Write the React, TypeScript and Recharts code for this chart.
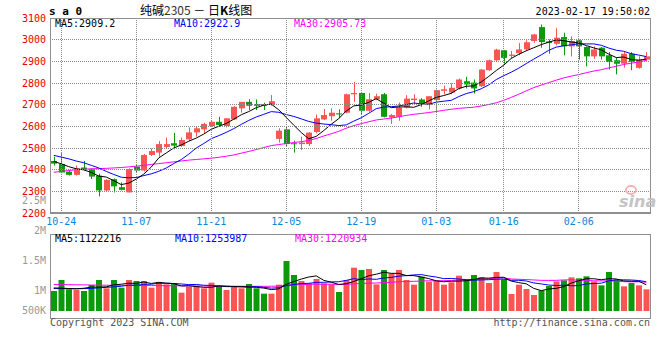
import React from 'react';
import { ComposedChart, Bar, Line, XAxis, YAxis, Cell } from 'recharts';

const dates = [
  '10-21', '10-24', '10-25', '10-26', '10-27', '10-28', '10-31', '11-01', '11-02', '11-03',
  '11-04', '11-07', '11-08', '11-09', '11-10', '11-11', '11-14', '11-15', '11-16', '11-17',
  '11-18', '11-21', '11-22', '11-23', '11-24', '11-25', '11-28', '11-29', '11-30', '12-01',
  '12-02', '12-05', '12-06', '12-07', '12-08', '12-09', '12-12', '12-13', '12-14', '12-15',
  '12-16', '12-19', '12-20', '12-21', '12-22', '12-23', '12-26', '12-27', '12-28', '12-29',
  '12-30', '01-03', '01-04', '01-05', '01-06', '01-09', '01-10', '01-11', '01-12', '01-13',
  '01-16', '01-17', '01-18', '01-19', '01-20', '01-30', '01-31', '02-01', '02-02', '02-03',
  '02-06', '02-07', '02-08', '02-09', '02-10', '02-13', '02-14', '02-15', '02-16', '02-17',
];

const opens = [
  2440, 2426, 2391, 2376, 2410, 2402, 2372, 2304, 2356, 2319,
  2295, 2414, 2396, 2468, 2479, 2505, 2522, 2509, 2540, 2572,
  2586, 2601, 2621, 2601, 2632, 2683, 2713, 2703, 2702, 2698,
  2542, 2586, 2522, 2518, 2518, 2574, 2632, 2647, 2660, 2663,
  2748, 2754, 2672, 2725, 2748, 2641, 2644, 2687, 2721, 2724,
  2698, 2721, 2764, 2756, 2775, 2808, 2802, 2785, 2859, 2905,
  2951, 2925, 2937, 2955, 2994, 3058, 2992, 2981, 3012, 2969,
  2997, 2966, 2923, 2963, 2928, 2905, 2889, 2935, 2870, 2908,
];
const highs = [
  2460, 2476, 2399, 2419, 2440, 2406, 2381, 2356, 2359, 2341,
  2406, 2426, 2473, 2498, 2532, 2548, 2570, 2548, 2595, 2601,
  2617, 2626, 2644, 2637, 2693, 2713, 2725, 2724, 2709, 2744,
  2591, 2598, 2534, 2552, 2574, 2655, 2680, 2683, 2678, 2751,
  2805, 2754, 2754, 2751, 2754, 2657, 2710, 2744, 2748, 2730,
  2739, 2770, 2788, 2798, 2821, 2828, 2816, 2865, 2908, 2958,
  2951, 2948, 2985, 2997, 3027, 3070, 3001, 3053, 3032, 3015,
  3000, 2969, 2969, 2966, 2943, 2917, 2943, 2943, 2923, 2943,
];
const lows = [
  2419, 2384, 2373, 2373, 2396, 2357, 2277, 2301, 2295, 2304,
  2295, 2387, 2391, 2463, 2460, 2498, 2494, 2505, 2532, 2552,
  2568, 2598, 2598, 2595, 2629, 2663, 2675, 2675, 2675, 2695,
  2525, 2509, 2479, 2491, 2509, 2568, 2629, 2626, 2637, 2660,
  2713, 2652, 2667, 2721, 2641, 2611, 2626, 2683, 2703, 2690,
  2678, 2667, 2748, 2748, 2770, 2775, 2751, 2782, 2856, 2902,
  2889, 2912, 2928, 2948, 2985, 2963, 2935, 2974, 2928, 2923,
  2908, 2877, 2912, 2908, 2862, 2840, 2871, 2859, 2866, 2897,
];
const closes = [
  2428, 2387, 2376, 2406, 2399, 2368, 2304, 2353, 2323, 2307,
  2403, 2396, 2468, 2486, 2518, 2518, 2511, 2537, 2572, 2591,
  2611, 2621, 2606, 2637, 2690, 2713, 2695, 2695, 2695, 2716,
  2580, 2518, 2518, 2525, 2571, 2637, 2652, 2663, 2655, 2748,
  2754, 2672, 2725, 2739, 2644, 2652, 2687, 2728, 2728, 2706,
  2739, 2767, 2771, 2778, 2816, 2793, 2775, 2862, 2905, 2954,
  2916, 2931, 2955, 2988, 3024, 2989, 2985, 3009, 2969, 2994,
  2969, 2923, 2955, 2923, 2897, 2889, 2935, 2897, 2908, 2923,
];
const volumes = [
  854000, 1323000, 925000, 896000, 854000, 1110000, 1323000, 968000, 1323000, 996000,
  1323000, 1281000, 1281000, 996000, 1238000, 1138000, 1195000, 783000, 1039000, 1067000,
  968000, 1210000, 1067000, 896000, 1067000, 968000, 1153000, 968000, 740000, 740000,
  1124000, 2134000, 1537000, 1281000, 1181000, 1366000, 1181000, 1138000, 811000, 1323000,
  1850000, 1750000, 1793000, 1138000, 1750000, 1608000, 1750000, 1323000, 1124000, 1466000,
  1252000, 1281000, 1124000, 1224000, 1508000, 1323000, 1537000, 1451000, 1195000, 1665000,
  1352000, 726000, 1124000, 939000, 683000, 882000, 1067000, 1266000, 1309000, 1437000,
  1395000, 1480000, 1266000, 1096000, 1665000, 1338000, 1053000, 1195000, 1096000, 925000,
];

// moving-average values before a full window of visible data exists
const ma5Head = [2438, 2427, 2414, 2404];
const ma10Head = [2466, 2458, 2450, 2440, 2432, 2420, 2408, 2392, 2378];
const ma30Head = [
  2388, 2392, 2396, 2400, 2402, 2404, 2405, 2406, 2408, 2410,
  2413, 2416, 2420, 2424, 2428, 2432, 2436, 2440, 2444, 2447,
  2450, 2453, 2457, 2462, 2468, 2476, 2484, 2493, 2502,
];
const vma5Head = [985000, 975000, 960000, 950000];
const vma10Head = [960000, 955000, 950000, 950000, 955000, 965000, 990000, 1010000, 1030000];
const vma30Head = [
  1130000, 1128000, 1125000, 1120000, 1115000, 1110000, 1105000, 1100000, 1098000, 1095000,
  1093000, 1090000, 1088000, 1085000, 1083000, 1080000, 1078000, 1075000, 1072000, 1070000,
  1068000, 1065000, 1062000, 1060000, 1058000, 1056000, 1055000, 1054000, 1053000,
];

const priceTicks = [2200, 2300, 2400, 2500, 2600, 2700, 2800, 2900, 3000, 3100];
const dateTicks = ['10-24', '11-07', '11-21', '12-05', '12-19', '01-03', '01-16', '02-06'];
const volLabelTicks = [500000, 1000000, 1500000, 2000000, 2500000];
const volQuarterLines = [1, 2, 3];

const priceLegend = ['MA5:2909.2', 'MA10:2922.9', 'MA30:2905.73'];
const volLegend = ['MA5:1122216', 'MA10:1253987', 'MA30:1220934'];

const MONO = '"DejaVu Sans Mono", "Liberation Mono", monospace';
const RED = '#fa5555';
const GREEN = '#0a9a0a';
const GRID = '#8a8a8a';
const FRAME = '#8f8f8f';
const DASH = '1 1';

// plot-area layout (pixels)
const PLOT_LEFT = 50;
const PLOT_RIGHT = 650;
const MAIN_TOP = 18;
const MAIN_BOTTOM = 213;
const VOL_TOP = 39; // inside the volume chart's own svg
const VOL_BOTTOM = 123;

function movingAvg(values: number[], n: number, head: number[]) {
  return values.map((_, i) => {
    if (i < n - 1) return head[i];
    let s = 0;
    for (let k = i - n + 1; k <= i; k++) s += values[k];
    return s / n;
  });
}

const ma5 = movingAvg(closes, 5, ma5Head);
const ma10 = movingAvg(closes, 10, ma10Head);
const ma30 = movingAvg(closes, 30, ma30Head);
const vma5 = movingAvg(volumes, 5, vma5Head);
const vma10 = movingAvg(volumes, 10, vma10Head);
const vma30 = movingAvg(volumes, 30, vma30Head);

const rows = dates.map((date, i) => ({
  date,
  open: opens[i],
  high: highs[i],
  low: lows[i],
  close: closes[i],
  range: [lows[i], highs[i]],
  up: closes[i] >= opens[i],
  ma5: ma5[i],
  ma10: ma10[i],
  ma30: ma30[i],
  volume: volumes[i],
  vma5: vma5[i],
  vma10: vma10[i],
  vma30: vma30[i],
}));

const Candle = (props: any) => {
  const { x, y, width, height, payload } = props;
  if (x == null || y == null) return null;
  const { open, close, high, low } = payload;
  const color = close >= open ? RED : GREEN;
  const span = high - low;
  const pxPer = span > 0 ? height / span : 0;
  const bodyTop = y + (high - Math.max(open, close)) * pxPer;
  const bodyH = Math.max(1, Math.abs(open - close) * pxPer);
  const cx = Math.floor(x + width / 2) + 0.5;
  const bx = Math.round(x);
  return (
    <g>
      <line x1={cx} x2={cx} y1={y} y2={y + Math.max(height, 1)} stroke={color} strokeWidth={1} />
      <rect x={bx} y={bodyTop} width={width} height={bodyH} fill={color} />
    </g>
  );
};

const PriceTick = (props: any) => {
  const { x, y, payload } = props;
  const gy = Math.floor(y) + 0.5;
  const inner = payload.value > priceTicks[0] && payload.value < priceTicks[priceTicks.length - 1];
  return (
    <g>
      {inner && <line x1={PLOT_LEFT} x2={PLOT_RIGHT} y1={gy} y2={gy} stroke={GRID} strokeDasharray={DASH} />}
      <text x={x} y={y} dy="0.355em" textAnchor="end" fill="#e80000" fontSize={10} fontFamily={MONO}>
        {payload.value}
      </text>
    </g>
  );
};

const DateTick = (props: any) => {
  const { x, y, payload } = props;
  const gx = Math.floor(x) + 0.5;
  return (
    <g>
      <line x1={gx} x2={gx} y1={MAIN_TOP} y2={MAIN_BOTTOM} stroke={GRID} strokeDasharray={DASH} />
      <text x={x} y={y} dy="0.71em" textAnchor="middle" fill="#0a86d8" fontSize={10} fontFamily={MONO}>
        {payload.value}
      </text>
    </g>
  );
};

const VolDateTick = (props: any) => {
  const { x } = props;
  const gx = Math.floor(x) + 0.5;
  return <line x1={gx} x2={gx} y1={VOL_TOP} y2={VOL_BOTTOM} stroke={GRID} strokeDasharray={DASH} />;
};

const QuarterTick = (props: any) => {
  const { y } = props;
  const gy = Math.floor(y) + 0.5;
  return <line x1={PLOT_LEFT} x2={PLOT_RIGHT} y1={gy} y2={gy} stroke={GRID} strokeDasharray={DASH} />;
};

const fmtVol = (v: number) => (v >= 1000000 ? `${v / 1000000}M` : `${v / 1000}K`);

const VolTick = (props: any) => {
  const { x, y, payload } = props;
  return (
    <text x={x} y={Math.min(y, 115)} dy="0.355em" textAnchor="end" fill="#999" fontSize={10} fontFamily={MONO}>
      {fmtVol(payload.value)}
    </text>
  );
};

export default function App() {
  return (
    <div style={{ position: 'absolute', left: 0, top: 0, width: 660, height: 360, background: '#fff', overflow: 'hidden' }}>
      <div style={{ position: 'absolute', left: 0, top: 0 }}>
        <ComposedChart width={660} height={230} data={rows} margin={{ top: 18, right: 10, bottom: 0, left: 0 }}>
          <XAxis
            dataKey="date"
            ticks={dateTicks}
            interval={0}
            tickLine={false}
            axisLine={false}
            tickSize={0}
            tickMargin={5}
            height={17}
            tick={<DateTick />}
          />
          <YAxis
            domain={[2200, 3100]}
            ticks={priceTicks}
            interval={0}
            allowDataOverflow
            width={50}
            tickLine={false}
            axisLine={false}
            tickSize={0}
            tickMargin={4}
            tick={<PriceTick />}
          />
          <Bar dataKey="range" barSize={6} shape={<Candle />} isAnimationActive={false} />
          <Line dataKey="ma30" stroke="#ff00ff" strokeWidth={1} dot={false} isAnimationActive={false} />
          <Line dataKey="ma10" stroke="#0000ff" strokeWidth={1} dot={false} isAnimationActive={false} />
          <Line dataKey="ma5" stroke="#000000" strokeWidth={1} dot={false} isAnimationActive={false} />
        </ComposedChart>
      </div>
      <div style={{ position: 'absolute', left: 0, top: 195 }}>
        <ComposedChart width={660} height={140} data={rows} margin={{ top: 39, right: 10, bottom: 17, left: 0 }}>
          <XAxis
            dataKey="date"
            ticks={dateTicks}
            interval={0}
            height={0}
            tickSize={0}
            tickLine={false}
            axisLine={false}
            tick={<VolDateTick />}
          />
          <YAxis
            yAxisId="lbl"
            domain={[545000, 1945000]}
            ticks={volLabelTicks}
            interval={0}
            allowDataOverflow
            width={50}
            tickLine={false}
            axisLine={false}
            tickSize={0}
            tickMargin={4}
            tick={<VolTick />}
          />
          <YAxis
            yAxisId="quarter"
            orientation="right"
            width={0}
            domain={[0, 4]}
            ticks={volQuarterLines}
            interval={0}
            allowDataOverflow
            tickLine={false}
            axisLine={false}
            tickSize={0}
            tick={<QuarterTick />}
          />
          <YAxis yAxisId="vol" domain={[-299000, 3288000]} allowDataOverflow hide />
          <Bar yAxisId="vol" dataKey="volume" barSize={6} isAnimationActive={false}>
            {rows.map((r, i) => (
              <Cell key={i} fill={r.up ? RED : GREEN} />
            ))}
          </Bar>
          <Line yAxisId="vol" dataKey="vma30" stroke="#ff00ff" strokeWidth={1} dot={false} isAnimationActive={false} />
          <Line yAxisId="vol" dataKey="vma10" stroke="#0000ff" strokeWidth={1} dot={false} isAnimationActive={false} />
          <Line yAxisId="vol" dataKey="vma5" stroke="#000000" strokeWidth={1} dot={false} isAnimationActive={false} />
        </ComposedChart>
      </div>
      <div style={{ position: 'absolute', left: 50, top: 18, width: 601, height: 196, border: `1px solid ${FRAME}`, borderBottomWidth: 2, boxSizing: 'border-box' }} />
      <div style={{ position: 'absolute', left: 50, top: 234, width: 601, height: 85, border: `1px solid ${FRAME}`, boxSizing: 'border-box' }} />
      <svg width={660} height={360} style={{ position: 'absolute', left: 0, top: 0, pointerEvents: 'none' }}>
        <text x={49} y={15} fontSize={11} fontWeight="bold" fontFamily={MONO} fill="#000">s a 0</text>
        <text x={140} y={15} fontSize={12} fontFamily='"Noto Sans CJK SC", sans-serif' fill="#000">
          纯碱<tspan fill="#333">2305</tspan> － 日<tspan fontWeight="bold">K</tspan>线图
        </text>
        <text x={650} y={15} textAnchor="end" fontSize={10} fontFamily={MONO} fill="#000">2023-02-17 19:50:02</text>
        <text x={55} y={27} fontSize={10} fontFamily={MONO} fill="#000">{priceLegend[0]}</text>
        <text x={174} y={27} fontSize={10} fontFamily={MONO} fill="#0000ff">{priceLegend[1]}</text>
        <text x={294} y={27} fontSize={10} fontFamily={MONO} fill="#ff00ff">{priceLegend[2]}</text>
        <text x={55} y={242} fontSize={10} fontFamily={MONO} fill="#000">{volLegend[0]}</text>
        <text x={175} y={242} fontSize={10} fontFamily={MONO} fill="#0000ff">{volLegend[1]}</text>
        <text x={295} y={242} fontSize={10} fontFamily={MONO} fill="#ff00ff">{volLegend[2]}</text>
        <text x={50} y={326} fontSize={10} fontFamily={MONO} fill="#555">Copyright 2023 SINA.COM</text>
        <text x={650} y={326} textAnchor="end" fontSize={10} fontFamily={MONO} fill="#555">http://finance.sina.com.cn</text>
        <ellipse cx={631} cy={190} rx={5} ry={4} fill="none" stroke="#f4b4b4" strokeWidth={2} />
        <text x={619} y={207} fontSize={16} fontStyle="italic" fontWeight="bold" fontFamily='"DejaVu Sans", sans-serif' fill="#c4c4c4">sina</text>
      </svg>
    </div>
  );
}
